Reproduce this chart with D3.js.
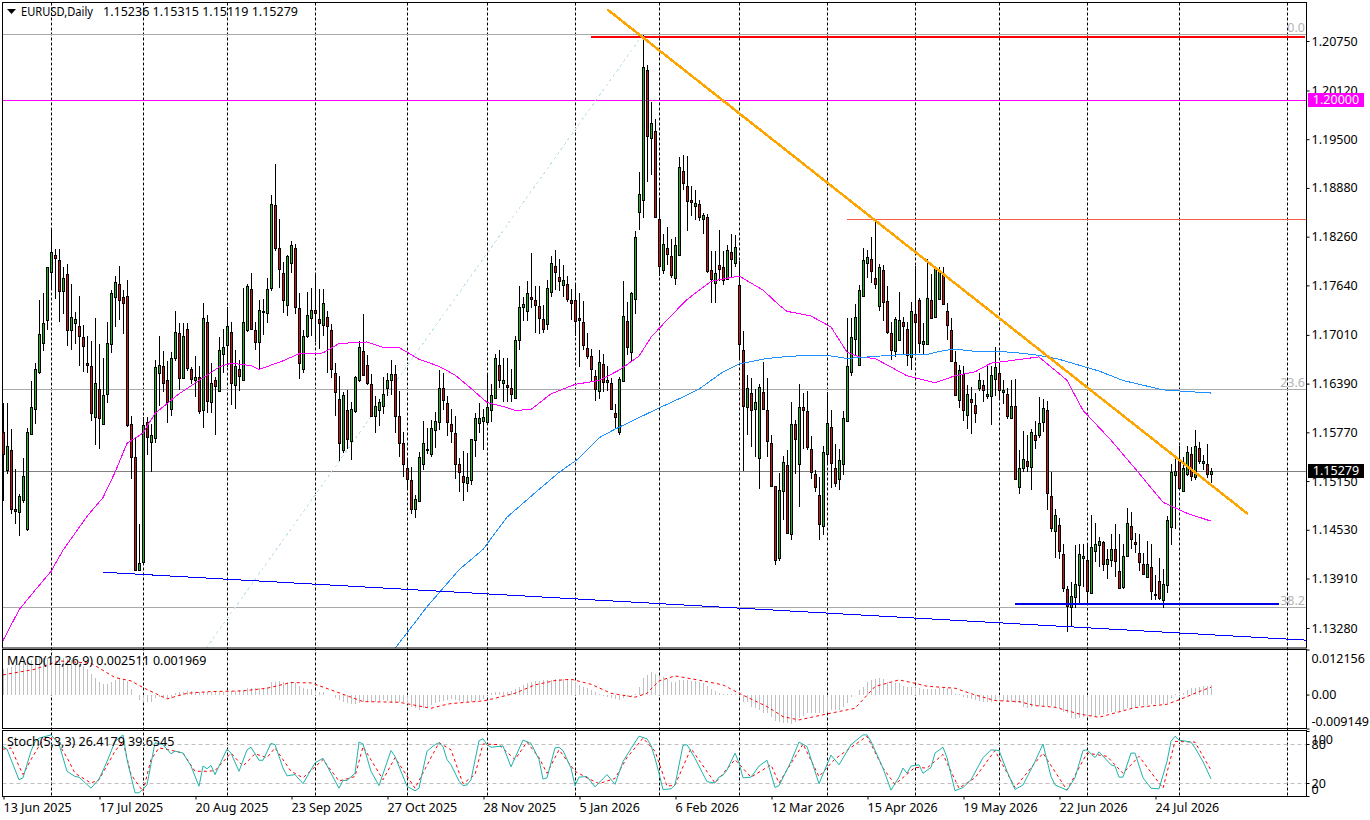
<!DOCTYPE html>
<html>
<head>
<meta charset="utf-8">
<title>EURUSD,Daily</title>
<script src="https://cdn.jsdelivr.net/npm/d3@7"></script>
<style>
  body { margin: 0; background: #fff; }
  svg { display: block; }
  text { font-family: "Noto Sans", sans-serif; font-size: 12.5px; fill: #000; }
  .domain { display: none; }
  .candles { shape-rendering: crispEdges; }
  .jagged { shape-rendering: crispEdges; }
</style>
</head>
<body>
<div id="chart"></div>
<script>
// prices are kept in 1/10000 of a point (11523 = 1.1523), one entry per daily bar
const highs = [
  11614,11614,11581,11530,11499,11544,11582,11642,11665,11745,
  11754,11788,11834,11810,11810,11788,11791,11766,11730,11750,
  11713,11699,11693,11722,11690,11672,11717,11758,11776,11789,
  11758,11771,11598,11571,11460,11597,11597,11588,11669,11699,
  11680,11668,11679,11731,11716,11716,11716,11660,11674,11662,
  11742,11726,11665,11648,11698,11709,11736,11718,11682,11669,
  11761,11766,11780,11718,11746,11747,11774,11879,11919,11849,
  11794,11803,11820,11817,11754,11707,11755,11761,11780,11759,
  11759,11732,11715,11665,11649,11628,11631,11615,11649,11693,
  11728,11675,11651,11623,11620,11648,11652,11669,11663,11629,
  11577,11544,11533,11497,11552,11591,11582,11593,11603,11656,
  11653,11623,11607,11598,11544,11553,11551,11569,11601,11614,
  11607,11652,11639,11677,11682,11672,11672,11657,11699,11763,
  11749,11769,11805,11763,11763,11739,11771,11802,11809,11797,
  11790,11776,11760,11766,11754,11744,11704,11683,11656,11682,
  11677,11662,11646,11613,11648,11769,11743,11756,11833,11908,
  12082,12045,11998,11976,11875,11829,11838,11823,11826,11927,
  11930,11929,11891,11885,11873,11856,11855,11808,11808,11835,
  11808,11815,11829,11828,11795,11706,11650,11646,11632,11638,
  11667,11646,11574,11509,11525,11547,11555,11616,11593,11639,
  11627,11630,11572,11529,11520,11560,11628,11606,11562,11556,
  11604,11722,11722,11740,11765,11812,11809,11825,11849,11791,
  11790,11763,11718,11724,11755,11724,11718,11743,11789,11748,
  11716,11797,11779,11789,11788,11788,11741,11722,11680,11663,
  11661,11637,11635,11627,11652,11643,11661,11662,11685,11665,
  11644,11633,11644,11645,11555,11579,11574,11581,11591,11622,
  11620,11617,11527,11480,11468,11435,11382,11386,11433,11435,
  11435,11435,11472,11461,11444,11439,11429,11448,11460,11448,
  11435,11481,11476,11449,11447,11424,11439,11435,11396,11417,
  11403,11470,11537,11545,11559,11545,11559,11558,11580,11565,11548,11562,11531.5
];
const lows = [
  11489,11524,11473,11460,11445,11487,11452,11573,11588,11651,
  11680,11707,11758,11747,11717,11728,11687,11682,11689,11661,
  11654,11653,11591,11561,11556,11587,11614,11678,11711,11720,
  11702,11584,11518,11400,11401,11410,11548,11527,11563,11610,
  11628,11589,11598,11668,11631,11645,11655,11638,11622,11600,
  11583,11601,11601,11573,11629,11652,11660,11612,11607,11630,
  11643,11705,11707,11682,11658,11701,11716,11757,11808,11761,
  11729,11725,11780,11728,11645,11653,11697,11699,11692,11683,
  11699,11652,11646,11598,11541,11551,11556,11542,11602,11641,
  11649,11637,11597,11576,11585,11600,11623,11624,11576,11546,
  11520,11503,11473,11468,11488,11529,11549,11546,11557,11580,
  11605,11572,11563,11518,11501,11490,11501,11510,11546,11576,
  11554,11587,11590,11620,11633,11616,11616,11615,11621,11682,
  11719,11719,11735,11703,11702,11703,11707,11749,11758,11757,
  11749,11743,11720,11699,11660,11682,11670,11642,11617,11620,
  11628,11629,11606,11583,11573,11642,11675,11668,11727,11834,
  11850,11896,11905,11850,11776,11779,11790,11773,11765,11803,
  11886,11833,11852,11847,11846,11829,11780,11741,11742,11769,
  11765,11771,11775,11788,11670,11528,11573,11558,11545,11505,
  11605,11545,11509,11408,11413,11465,11448,11440,11524,11482,
  11556,11554,11517,11501,11440,11446,11536,11506,11507,11503,
  11523,11591,11649,11676,11663,11751,11773,11767,11759,11731,
  11719,11702,11669,11673,11693,11676,11661,11656,11678,11678,
  11676,11688,11722,11722,11746,11739,11695,11666,11623,11608,
  11592,11581,11575,11589,11629,11616,11619,11586,11623,11620,
  11613,11594,11595,11516,11499,11527,11527,11503,11556,11570,
  11578,11478,11450,11417,11416,11374,11323,11331,11353,11357,
  11380,11359,11373,11412,11406,11401,11390,11406,11393,11377,
  11378,11418,11429,11424,11400,11395,11392,11363,11363,11363,
  11353,11373,11433,11454,11505,11501,11522,11515,11516,11537,11529,11519,11511.9
];
const opens = [
  11577,11529,11555,11479,11476,11491,11454,11575,11607,11654,
  11691,11720,11781,11803,11796,11757,11779,11707,11716,11712,
  11698,11665,11661,11597,11632,11587,11626,11690,11749,11766,
  11749,11750,11588,11545,11402,11412,11590,11565,11570,11653,
  11661,11644,11607,11671,11704,11646,11709,11658,11643,11648,
  11606,11718,11615,11644,11629,11677,11688,11705,11637,11658,
  11643,11707,11759,11707,11692,11732,11729,11761,11866,11811,
  11780,11739,11793,11812,11735,11657,11700,11723,11733,11721,
  11713,11724,11707,11653,11619,11554,11605,11566,11604,11643,
  11680,11663,11639,11598,11606,11611,11634,11643,11651,11598,
  11563,11532,11516,11479,11489,11537,11556,11550,11580,11590,
  11634,11614,11588,11576,11537,11521,11512,11516,11567,11589,
  11592,11590,11606,11621,11663,11640,11637,11633,11621,11694,
  11737,11732,11749,11745,11738,11721,11715,11755,11789,11775,
  11764,11766,11745,11745,11722,11718,11684,11674,11649,11629,
  11664,11641,11640,11602,11577,11642,11719,11679,11747,11858,
  11873,12038,11952,11961,11848,11783,11812,11802,11773,11803,
  11910,11891,11873,11865,11867,11848,11851,11783,11767,11790,
  11787,11772,11807,11792,11764,11682,11609,11627,11607,11544,
  11628,11605,11564,11509,11417,11502,11535,11448,11588,11537,
  11609,11604,11556,11524,11497,11458,11549,11584,11531,11517,
  11537,11592,11654,11696,11663,11751,11793,11797,11774,11738,
  11783,11744,11703,11681,11695,11718,11708,11673,11727,11745,
  11690,11689,11745,11724,11747,11778,11731,11707,11666,11618,
  11651,11599,11619,11612,11634,11637,11623,11623,11645,11652,
  11628,11626,11595,11610,11508,11532,11540,11533,11573,11573,
  11590,11606,11496,11451,11459,11422,11378,11355,11367,11383,
  11417,11415,11373,11426,11433,11438,11409,11415,11428,11400,
  11380,11420,11458,11437,11424,11410,11393,11405,11371,11388,
  11364,11383,11456,11523,11542,11502,11524,11550,11520,11557,11538,11537,11523.6
];
const closes = [
  11550,11559,11479,11477,11496,11521,11577,11609,11658,11702,
  11716,11788,11806,11799,11757,11773,11707,11724,11721,11700,
  11687,11663,11601,11640,11595,11624,11691,11754,11768,11746,
  11741,11586,11545,11402,11411,11586,11571,11573,11660,11663,
  11640,11615,11672,11705,11646,11700,11659,11645,11648,11604,
  11722,11617,11640,11636,11682,11686,11712,11640,11661,11649,
  11718,11763,11709,11692,11733,11730,11760,11867,11812,11785,
  11746,11802,11815,11737,11665,11700,11726,11733,11729,11716,
  11741,11712,11657,11628,11564,11624,11569,11607,11647,11686,
  11650,11640,11598,11610,11616,11626,11644,11651,11598,11564,
  11537,11518,11480,11492,11546,11563,11554,11582,11592,11633,
  11618,11590,11579,11537,11527,11514,11520,11569,11595,11595,
  11597,11609,11624,11671,11643,11643,11635,11626,11695,11737,
  11740,11754,11747,11739,11723,11709,11761,11793,11781,11770,
  11771,11747,11741,11719,11720,11688,11674,11658,11632,11666,
  11641,11644,11607,11597,11645,11725,11686,11754,11826,11880,
  12042,11954,11971,11851,11789,11817,11804,11777,11815,11915,
  11894,11871,11870,11869,11851,11854,11782,11772,11780,11785,
  11771,11809,11798,11813,11689,11610,11633,11606,11616,11635,
  11607,11566,11509,11414,11503,11539,11449,11588,11569,11609,
  11605,11558,11526,11508,11460,11552,11589,11538,11513,11542,
  11595,11661,11698,11724,11758,11796,11800,11782,11766,11788,
  11743,11705,11682,11721,11720,11712,11675,11731,11717,11691,
  11693,11748,11723,11785,11782,11740,11713,11668,11624,11656,
  11605,11626,11616,11602,11643,11631,11626,11650,11660,11631,
  11631,11598,11610,11518,11531,11543,11534,11578,11567,11589,
  11608,11500,11455,11472,11426,11379,11356,11369,11384,11422,
  11420,11375,11431,11435,11439,11409,11416,11429,11413,11379,
  11420,11462,11441,11435,11412,11397,11410,11375,11370,11366,
  11384,11466,11527,11528,11506,11531,11552,11522,11559,11540,11541,11524,11527.9
];

// moving averages, read at these bars
const maFastBars = [0,4,8,12,15,21,25,28,31,35,38,44,49,54,57,62,64,70,74,80,84,91,95,99,104,109,113,117,121,125,128,132,137,143,149,154,159,162,166,171,177,184,190,194,196,202,207,211,214,218,222,226,233,238,243,247,253,259,262,264,266,270,277,284,290,296,302];
const maFastVals = [11312,11351,11376,11400,11427,11470,11494,11526,11563,11576,11601,11626,11643,11660,11665,11662,11657,11668,11677,11678,11690,11692,11685,11685,11670,11661,11650,11633,11615,11610,11605,11606,11626,11638,11643,11656,11674,11698,11720,11746,11769,11776,11758,11739,11731,11725,11711,11679,11673,11671,11660,11649,11640,11649,11654,11665,11669,11673,11660,11652,11643,11605,11567,11525,11488,11474,11464];
const maSlowBars = [98,106,114,120,126,133,139,144,149,153,164,170,174,180,184,191,197,206,211,219,225,231,234,238,243,249,254,259,264,274,280,290,302];
const maSlowVals = [11302,11355,11402,11428,11469,11500,11526,11544,11570,11581,11608,11622,11632,11654,11664,11671,11674,11675,11671,11674,11676,11676,11680,11683,11680,11680,11678,11675,11670,11655,11643,11631,11627];

// MACD histogram and signal, in 1/100000
const macdHist = [
  693,711,747,801,846,873,909,936,963,999,999,999,1017,999,999,981,963,936,891,819,783,693,549,441,333,279,279,333,396,423,405,369,153,-9,
  -144,-189,-207,-189,-99,-54,-54,-99,-81,36,63,81,99,99,81,81,63,63,63,63,81,81,81,99,99,126,126,171,171,171,189,189,216,333,351,369,351,333,333,306,243,189,153,153,99,81,81,-9,-9,-99,-144,-189,-234,-261,-261,-234,-189,-189,-207,-189,-171,-144,-171,-234,-234,-207,-207,-261,-324,-369,-414,-369,-324,-279,-234,-207,-171,-144,
  -117,-144,-171,-189,-189,-189,-171,-144,-117,9,36,63,81,81,81,99,144,216,261,306,351,369,369,387,405,405,423,423,414,414,405,333,261,216,171,126,81,9,-27,-54,-99,-126,-144,-99,-72,-54,9,216,459,531,621,549,513,468,423,351,333,396,387,387,378,369,351,306,243,153,99,36,9,9,9,9,-54,-207,-207,-324,-369,-414,-504,-504,-594,-711,-747,-756,-774,-783,-729,-639,-567,-504,-504,-504,-504,-504,-459,-414,-414,-414,-324,-234,-54,-9,126,216,333,396,414,441,423,351,306,306,306,
  243,216,216,189,171,153,153,153,153,171,171,171,153,9,9,-54,-99,-117,-144,-171,-189,-189,-207,-144,-144,-171,-189,-207,-234,-234,-324,-351,-324,-306,-297,-297,-297,-297,-324,-369,-459,-504,-621,-657,-639,-594,-594,-576,-567,-549,-522,-504,-459,-459,-432,-414,-369,-351,-324,-306,-279,-279,-261,-261,-261,-261,-234,-99,9,36,36,126,171,189,216,234,243,251
];
const macdSignalBars = [0,8,14,22,28,32,35,41,46,52,60,66,72,77,82,90,99,107,111,112,120,122,128,133,138,142,147,152,158,161,164,168,175,180,184,191,195,199,206,213,218,224,228,231,238,243,248,254,258,263,269,274,278,283,291,295,299,302];
const macdSignalVals = [531,684,909,846,459,369,189,-117,36,81,99,171,324,315,126,-189,-207,-369,-261,-243,-171,-126,36,261,378,414,279,36,-72,36,369,504,369,261,36,-324,-594,-684,-522,-369,216,396,306,225,171,-9,-162,-189,-297,-342,-522,-612,-495,-351,-261,-99,81,197];

// stochastic main and signal lines
const stochMainBars = [0,1,4,5,7,8,9,12,14,16,18,19,22,24,26,28,30,31,33,34,36,38,40,42,43,45,47,49,50,51,52,53,56,57,59,61,62,64,65,67,68,70,71,73,75,78,80,84,85,86,88,89,90,92,94,97,98,101,103,104,106,108,109,110,111,112,114,115,116,117,119,120,121,122,125,127,130,132,134,135,136,138,139,140,142,143,144,146,148,151,153,155,157,159,161,162,163,164,165,167,168,170,171,173,176,178,179,180,181,183,184,185,187,189,191,193,194,197,199,201,204,207,209,212,215,216,217,220,222,224,225,226,227,228,229,230,232,233,235,236,238,240,242,245,247,249,251,253,255,258,260,262,263,266,268,270,271,273,274,277,278,279,280,282,283,285,287,289,291,292,293,294,297,298,300,302];
const stochMainVals = [76,72,25,28,69,84,89,94,80,38,30,29,12,26,53,84,94,56,5,5,17,82,79,65,69,66,46,15,46,42,47,33,72,66,38,71,75,55,55,81,79,43,31,33,19,51,58,12,24,24,35,83,80,38,16,70,61,15,8,12,69,79,82,76,56,48,23,16,17,25,85,88,79,75,77,45,86,81,56,26,28,74,75,70,43,16,29,30,14,33,18,53,73,92,88,78,58,35,10,11,17,78,79,58,22,20,29,32,40,66,51,28,29,46,55,13,16,53,83,76,19,63,48,79,94,94,84,43,9,29,43,35,46,47,48,35,44,66,75,59,8,13,25,59,71,70,38,10,17,53,80,30,17,9,28,70,71,59,68,48,46,29,29,66,66,28,12,11,53,84,92,86,83,74,53,26.4];
const stochSignalBars = [0,2,4,5,7,10,13,16,18,22,24,28,30,32,35,37,39,43,45,48,51,53,57,60,63,66,68,72,75,80,84,88,90,95,98,103,107,109,112,115,118,120,124,128,131,134,136,139,143,146,149,153,156,160,163,166,168,172,178,183,187,192,194,200,204,208,213,216,220,223,228,231,235,239,243,248,253,260,266,271,276,280,284,290,293,298,302];
const stochSignalVals = [72,74,46,33,56,87,89,59,35,20,25,69,84,33,7,56,74,69,66,38,38,39,66,46,65,59,74,38,28,56,23,30,76,25,59,12,59,82,71,19,33,80,79,56,83,59,35,71,38,28,19,27,59,89,69,15,17,73,20,56,29,48,20,80,30,57,79,92,43,18,44,43,64,12,28,70,13,66,9,66,61,35,61,12,84,83,39.7];

// axes
const priceTicks = [12075,12012,11950,11888,11826,11764,11701,11639,11577,11515,11453,11391,11328];
const priceTickLabels = ['1.20750','1.20120','1.19500','1.18880','1.18260','1.17640','1.17010','1.16390','1.15770','1.15150','1.14530','1.13910','1.13280'];
const dateTickBars = [0,24,48,72,96,120,144,168,192,216,240,264,288];
const dateTickLabels = ['13 Jun 2025','17 Jul 2025','20 Aug 2025','23 Sep 2025','27 Oct 2025','28 Nov 2025','5 Jan 2026','6 Feb 2026','12 Mar 2026','15 Apr 2026','19 May 2026','22 Jun 2026','24 Jul 2026'];
const gridBars = [12,35,56,78,101,121,143,164,184,206,228,249,271,294,321];
const macdTicks = [0.012156,0,-0.009149];
const stochTicks = [100,80,20,0];
const stochLevels = [80,20];

// fibonacci levels and drawn objects, in price and bar terms
const fibLevels = [12083.4,11632.6,11354.5];
const fibLabels = ['0.0','23.6','38.2'];
const fibDiagonal = [[50.75,11302],[160,12083.6]];
const orangeTrend = [[151,12115.5],[311.25,11473]];
const blueTrend = [[25,11399],[326,11312.5]];
const redLevel = [[147,12079.5],[325.5,12079.5]];
const thinRedLevel = [[211,11848],[326,11848]];
const blueLevel = [[253,11358],[319,11358]];
const roundLevel = 12000;
const lastPrice = 11527.9;

const width = 1370;
const height = 820;
const plotLeft = 2.5;
const plotRight = 1306.5;
const plotTop = 2.5;
const mainBottom = 648;
const macdTop = 650;
const macdBottom = 728.5;
const stochTop = 730.5;
const stochBottom = 796.5;

const x = d3.scaleLinear().domain([0, 302]).range([3, 1211]);
const y = d3.scaleLinear().domain([12075, 11328]).range([41, 628]);
const yMacd = d3.scaleLinear().domain([0.012156, -0.009149]).range([649.5, 728.5]);
const yStoch = d3.scaleLinear().domain([100, 0]).range([731, 796]);

const svg = d3.select('#chart').append('svg')
  .attr('width', width)
  .attr('height', height)
  .attr('viewBox', `0 0 ${width} ${height}`);

svg.append('rect').attr('width', width).attr('height', height).attr('fill', '#fff');

const clip = (id, top, bottom) => svg.append('clipPath').attr('id', id)
  .append('rect').attr('x', plotLeft).attr('y', top)
  .attr('width', plotRight - plotLeft).attr('height', bottom - top);
clip('clip-main', plotTop, mainBottom);
clip('clip-macd', macdTop, macdBottom);
clip('clip-stoch', stochTop, stochBottom);

// vertical dashed grid goes behind everything
svg.append('g').selectAll('line').data(gridBars).join('line')
  .attr('x1', (d) => Math.round(x(d)) + 0.5)
  .attr('x2', (d) => Math.round(x(d)) + 0.5)
  .attr('y1', plotTop)
  .attr('y2', stochBottom)
  .attr('stroke', '#000')
  .attr('stroke-dasharray', '3,2');

const main = svg.append('g').attr('clip-path', 'url(#clip-main)');

function hLine(g, price, color, w) {
  g.append('line')
    .attr('x1', plotLeft).attr('x2', plotRight)
    .attr('y1', Math.round(y(price)) + 0.5).attr('y2', Math.round(y(price)) + 0.5)
    .attr('stroke', color).attr('stroke-width', w);
}

function segment(g, pts, color, w, dash) {
  g.append('line')
    .attr('class', 'jagged')
    .attr('x1', x(pts[0][0])).attr('y1', y(pts[0][1]))
    .attr('x2', x(pts[1][0])).attr('y2', y(pts[1][1]))
    .attr('stroke', color).attr('stroke-width', w)
    .attr('stroke-dasharray', dash || null);
}

fibLevels.forEach((d) => hLine(main, d, '#aaaaaa', 1));
hLine(main, roundLevel, '#ff00ff', 1);
hLine(main, lastPrice, '#808080', 1);
segment(main, fibDiagonal, '#c4e3ec', 1, '3,3');
segment(main, thinRedLevel, '#f4604a', 1);

// candles
const candles = main.append('g').attr('class', 'candles')
  .selectAll('g').data(d3.range(highs.length)).join('g');

candles.append('line')
  .attr('x1', (i) => x(i) + 0.5)
  .attr('x2', (i) => x(i) + 0.5)
  .attr('y1', (i) => Math.round(y(highs[i])))
  .attr('y2', (i) => Math.round(y(lows[i])))
  .attr('stroke', '#000');

candles.append('rect')
  .attr('x', (i) => x(i) - 0.5)
  .attr('width', 2)
  .attr('y', (i) => Math.round(y(Math.max(opens[i], closes[i]))) + 0.5)
  .attr('height', (i) => Math.max(1, Math.round(y(Math.min(opens[i], closes[i]))) - Math.round(y(Math.max(opens[i], closes[i])))))
  .attr('fill', (i) => closes[i] >= opens[i] ? '#22b322' : '#cc1414')
  .attr('stroke', '#000');

// moving averages
const maLine = d3.line().x((d) => x(d[0])).y((d) => y(d[1]));
main.append('path').attr('class', 'jagged').attr('d', maLine(d3.zip(maFastBars, maFastVals)))
  .attr('fill', 'none').attr('stroke', '#ff00ff');
main.append('path').attr('class', 'jagged').attr('d', maLine(d3.zip(maSlowBars, maSlowVals)))
  .attr('fill', 'none').attr('stroke', '#1e90ff');

// drawn trend lines
segment(main, blueTrend, '#0000ff', 1);
segment(main, blueLevel, '#0000e6', 2);
segment(main, redLevel, '#ff0000', 2);
segment(main, orangeTrend, '#ffa500', 2.5);

fibLabels.forEach((label, i) => {
  svg.append('text')
    .attr('x', 1305).attr('y', y(fibLevels[i]) - 2)
    .attr('text-anchor', 'end').style('fill', '#b4b4b4')
    .text(label);
});

// MACD panel
const macd = svg.append('g').attr('clip-path', 'url(#clip-macd)');
macd.append('g').attr('class', 'candles').selectAll('line').data(macdHist).join('line')
  .attr('x1', (d, i) => x(i) + 0.5)
  .attr('x2', (d, i) => x(i) + 0.5)
  .attr('y1', yMacd(0))
  .attr('y2', (d) => yMacd(d / 1e5))
  .attr('stroke', '#c0c0c0');
macd.append('path')
  .attr('d', d3.line().x((d) => x(d[0])).y((d) => yMacd(d[1] / 1e5))(d3.zip(macdSignalBars, macdSignalVals)))
  .attr('fill', 'none').attr('stroke', '#ff0000').attr('stroke-dasharray', '3,3');

// Stochastic panel
const stoch = svg.append('g').attr('clip-path', 'url(#clip-stoch)');
stochLevels.forEach((d) => {
  stoch.append('line')
    .attr('x1', plotLeft).attr('x2', plotRight)
    .attr('y1', Math.round(yStoch(d)) + 0.5).attr('y2', Math.round(yStoch(d)) + 0.5)
    .attr('stroke', '#c0c0c0').attr('stroke-dasharray', '4,3');
});
const stochLine = d3.line().x((d) => x(d[0])).y((d) => yStoch(d[1]));
stoch.append('path').attr('d', stochLine(d3.zip(stochSignalBars, stochSignalVals)))
  .attr('fill', 'none').attr('stroke', '#ff0000').attr('stroke-dasharray', '3,3');
stoch.append('path').attr('d', stochLine(d3.zip(stochMainBars, stochMainVals)))
  .attr('fill', 'none').attr('stroke', '#20b2aa');

// panel frames
[[plotTop, mainBottom], [macdTop - 0.5, macdBottom], [stochTop, stochBottom]].forEach(([t, b]) => {
  svg.append('rect')
    .attr('x', plotLeft).attr('y', t)
    .attr('width', plotRight - plotLeft).attr('height', b - t)
    .attr('fill', 'none').attr('stroke', '#000');
});

// price axes, the outer labels of the small panels are pulled inside like the terminal does
const priceAxis = d3.axisRight(y)
  .tickValues(priceTicks)
  .tickSize(3)
  .tickPadding(2)
  .tickFormat((d, i) => priceTickLabels[i]);
svg.append('g').attr('transform', `translate(${plotRight},0)`).call(priceAxis);

const macdAxis = d3.axisRight(yMacd)
  .tickValues(macdTicks)
  .tickSize(3)
  .tickPadding(2)
  .tickFormat((d) => d === 0 ? '0.00' : String(d));
const macdG = svg.append('g').attr('transform', `translate(${plotRight},0)`).call(macdAxis);
macdG.selectAll('text').attr('transform', (d) => `translate(0,${d > 0 ? 9 : d < 0 ? -7 : 0})`);

const stochAxis = d3.axisRight(yStoch)
  .tickValues(stochTicks)
  .tickSize(3)
  .tickPadding(2);
const stochG = svg.append('g').attr('transform', `translate(${plotRight},0)`).call(stochAxis);
stochG.selectAll('text').attr('transform', (d) => `translate(0,${d === 100 ? 8 : d === 0 ? -7 : 0})`);

// date axis
const dateAxis = d3.axisBottom(x)
  .tickValues(dateTickBars)
  .tickSize(3)
  .tickPadding(4)
  .tickFormat((d, i) => dateTickLabels[i]);
const dateG = svg.append('g').attr('transform', `translate(0.5,${stochBottom})`).call(dateAxis);
dateG.selectAll('text').attr('text-anchor', 'start').attr('dx', -0.5);

svg.selectAll('.tick line').attr('stroke', '#000');

// current price and round number flags
function priceFlag(price, label, color) {
  const cy = Math.round(y(price));
  svg.append('rect')
    .attr('x', 1308).attr('y', cy - 7)
    .attr('width', 56).attr('height', 14)
    .attr('fill', color);
  svg.append('text')
    .attr('x', 1336).attr('y', cy + 4)
    .attr('text-anchor', 'middle')
    .style('fill', '#fff')
    .text(label);
}
priceFlag(roundLevel, '1.20000', '#ff00ff');
priceFlag(lastPrice, '1.15279', '#000');

// headers
svg.append('path').attr('d', 'M7 9H16L11.5 14Z').attr('fill', '#000');
svg.append('text').attr('x', 21).attr('y', 16)
  .attr('textLength', 72).attr('lengthAdjust', 'spacingAndGlyphs')
  .text('EURUSD,Daily');
svg.append('text').attr('x', 103).attr('y', 16)
  .attr('textLength', 195).attr('lengthAdjust', 'spacing')
  .text('1.15236 1.15315 1.15119 1.15279');
svg.append('text').attr('x', 7).attr('y', 665).text('MACD(12,26,9) 0.002511 0.001969');
svg.append('text').attr('x', 7).attr('y', 746).text('Stoch(5,3,3) 26.4179 39.6545');
</script>
</body>
</html>
